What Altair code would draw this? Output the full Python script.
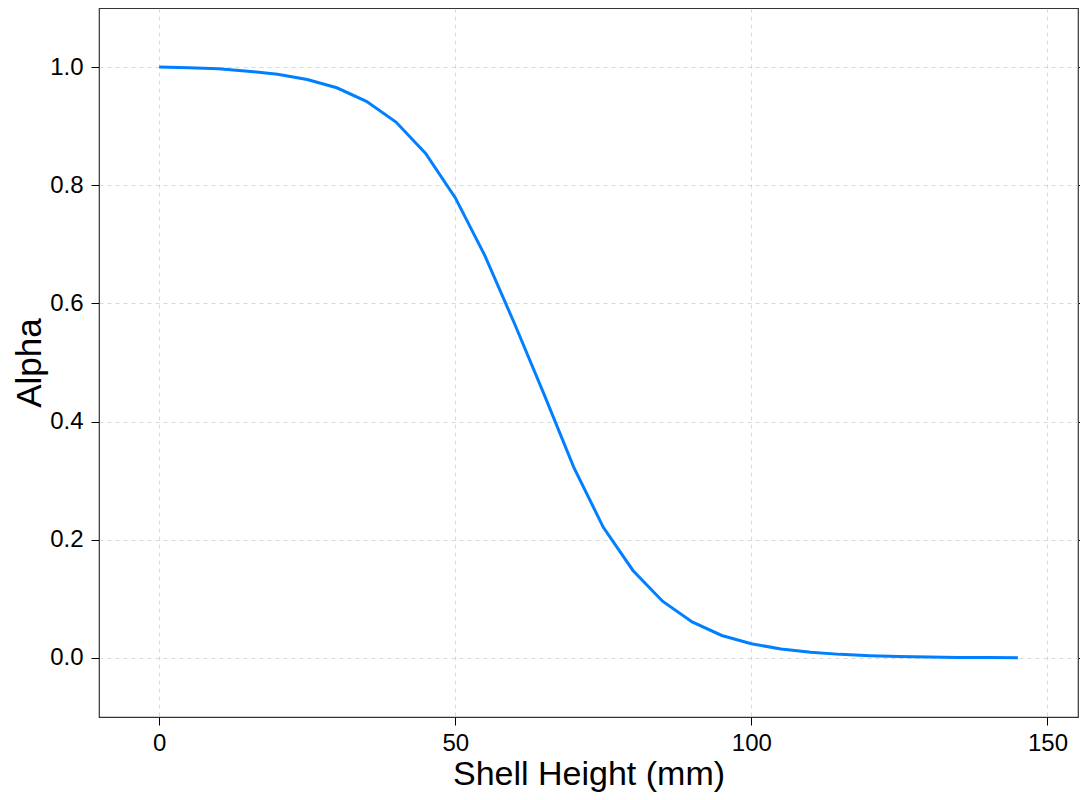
import altair as alt
import pandas as pd

shell_height = [0, 5, 10, 15, 20, 25, 30, 35, 40, 45, 50, 55, 60, 65, 70,
                75, 80, 85, 90, 95, 100, 105, 110, 115, 120, 125, 130, 135, 140, 145]
alpha = [1.0, 0.999, 0.997, 0.993, 0.988, 0.979, 0.965, 0.942, 0.907, 0.854,
         0.779, 0.681, 0.566, 0.446, 0.323, 0.221, 0.148, 0.096, 0.061, 0.038,
         0.024, 0.015, 0.0095, 0.006, 0.0037, 0.0023, 0.0014, 0.0009, 0.0005, 0.0003]

x_ticks = [0, 50, 100, 150]
y_ticks = [0.0, 0.2, 0.4, 0.6, 0.8, 1.0]

df = pd.DataFrame({"h": shell_height, "a": alpha})

FONT = "Liberation Sans"
xscale = alt.Scale(domain=[-10.15, 155.15], nice=False, zero=False)
yscale = alt.Scale(domain=[-0.1, 1.1], nice=False, zero=False)

base = alt.Chart(df)

line = base.mark_line(color="#0080ff", strokeWidth=3).encode(
    x=alt.X("h:Q", scale=xscale, axis=alt.Axis(
        title="Shell Height (mm)", values=x_ticks, format="d", grid=True,
        gridDash=[4, 4], gridColor="#d9d9d9", gridWidth=1, domain=False,
        tickColor="#000000", tickSize=8, tickWidth=1, labelFontSize=24,
        labelFont=FONT, labelColor="#000000", labelPadding=6, titleFont=FONT,
        titleFontSize=34, titleFontWeight="normal", titleColor="#000000",
        titlePadding=2)),
    y=alt.Y("a:Q", scale=yscale, axis=alt.Axis(
        title="Alpha", values=y_ticks, format=".1f", grid=True,
        gridDash=[4, 4], gridColor="#d9d9d9", gridWidth=1, domain=False,
        tickColor="#000000", tickSize=8, tickWidth=1, labelFontSize=24,
        labelFont=FONT, labelColor="#000000", labelPadding=8, titleFont=FONT,
        titleFontSize=35, titleFontWeight="normal", titleColor="#000000",
        titlePadding=2)),
)

mirror = base.mark_line(opacity=0).encode(
    x=alt.X("h:Q", scale=xscale, axis=alt.Axis(
        orient="top", labels=False, title=None, values=x_ticks, grid=False,
        domain=False, tickColor="#000000", tickSize=8, tickWidth=1)),
    y=alt.Y("a:Q", scale=yscale, axis=alt.Axis(
        orient="right", labels=False, title=None, values=y_ticks, grid=False,
        domain=False, tickColor="#000000", tickSize=8, tickWidth=1)),
)

chart = alt.layer(line, mirror).resolve_axis(
    x="independent", y="independent"
).properties(
    width=979, height=709,
    autosize=alt.AutoSizeParams(type="none"),
    padding={"left": 91, "top": 0, "right": 2, "bottom": 75},
    background="#ffffff",
).configure_view(stroke="#333333", strokeWidth=1.2)

chart.save("out.html", embed_options={"renderer": "svg", "actions": False})
